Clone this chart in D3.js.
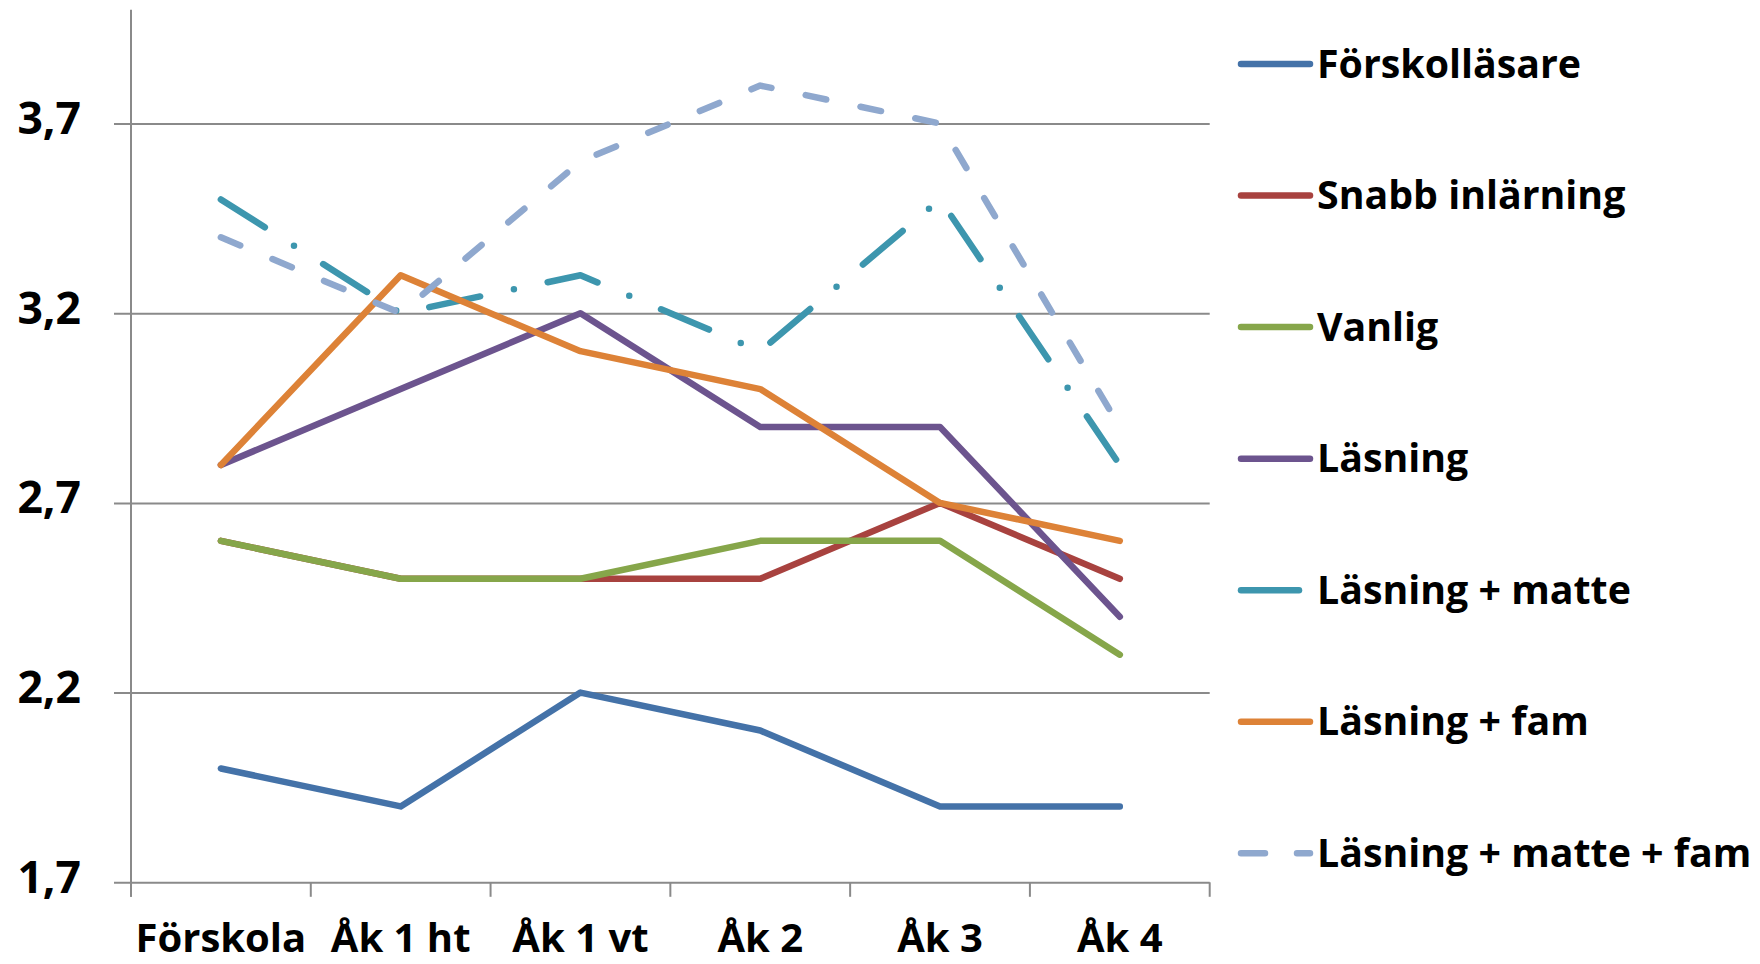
<!DOCTYPE html>
<html>
<head>
<meta charset="utf-8">
<script src="https://cdn.jsdelivr.net/npm/d3@7"></script>
<style>
  html, body { margin: 0; padding: 0; background: #ffffff; }
  svg { display: block; }
  text { font-family: "Open Sans", "Noto Sans", sans-serif; font-weight: 700; fill: #000; }
</style>
</head>
<body>
<svg id="chart" width="1760" height="964"></svg>
<script>
// ---- data ----
const categories = ["Förskola", "Åk 1 ht", "Åk 1 vt", "Åk 2", "Åk 3", "Åk 4"];
const seriesNames = ["Förskolläsare", "Snabb inlärning", "Vanlig", "Läsning", "Läsning + matte", "Läsning + fam", "Läsning + matte + fam"];
const forskollasare   = [2.0, 1.9, 2.2, 2.1, 1.9, 1.9];
const snabbInlarning  = [2.6, 2.5, 2.5, 2.5, 2.7, 2.5];
const vanlig          = [2.6, 2.5, 2.5, 2.6, 2.6, 2.3];
const lasning         = [2.8, 3.0, 3.2, 2.9, 2.9, 2.4];
const lasningMatte    = [3.5, 3.2, 3.3, 3.1, 3.5, 2.8];
const lasningFam      = [2.8, 3.3, 3.1, 3.0, 2.7, 2.6];
const lasningMatteFam = [3.4, 3.2, 3.6, 3.8, 3.7, 2.9];
const yTicks = [1.7, 2.2, 2.7, 3.2, 3.7];
const yDomain = [1.7, 4.0];

const seriesValues = [forskollasare, snabbInlarning, vanlig, lasning, lasningMatte, lasningFam, lasningMatteFam];

// ---- styles ----
const colors = ["#4472A8", "#A8423F", "#86A64A", "#6C548E", "#3D96AE", "#DD8237", "#8FA8CE"];
const dashes = [null, null, null, null, "52,34.5,0,34.5", null, "21,35"];
const legendDashes = [null, null, null, null, "58,100", null, "24,32"];

const svg = d3.select("#chart");
const plot = { left: 131, right: 1209.7, top: 9.7, bottom: 882.3 };

const x = d3.scaleBand().domain(categories).range([plot.left, plot.right]).padding(0);
const y = d3.scaleLinear().domain(yDomain).range([plot.bottom, plot.top]);

const gridColor = "#8a8a8a";

// gridlines (with left tick marks)
svg.append("g")
  .attr("transform", `translate(${plot.left},0)`)
  .call(d3.axisLeft(y).tickValues(yTicks).tickSize(-(plot.right - plot.left)).tickFormat(""))
  .call(g => g.select(".domain").remove())
  .call(g => g.selectAll(".tick line").attr("stroke", gridColor).attr("stroke-width", 2).attr("x1", -17));

// y axis line
svg.append("line")
  .attr("x1", plot.left).attr("x2", plot.left)
  .attr("y1", plot.top).attr("y2", plot.bottom + 14.5)
  .attr("stroke", gridColor).attr("stroke-width", 2);

// y labels
svg.append("g").selectAll("text")
  .data(yTicks)
  .join("text")
  .attr("x", 81)
  .attr("y", d => y(d) + 10.5)
  .attr("text-anchor", "end")
  .attr("font-size", 44.5)
  .text(d => d3.format(".1f")(d).replace(".", ","));

// x axis ticks at band boundaries
const xEdges = categories.map(c => x(c)).concat([plot.right]);
svg.append("g").selectAll("line")
  .data(xEdges)
  .join("line")
  .attr("x1", d => d).attr("x2", d => d)
  .attr("y1", plot.bottom).attr("y2", plot.bottom + 14.5)
  .attr("stroke", gridColor).attr("stroke-width", 2);

// x labels
svg.append("g").selectAll("text")
  .data(categories)
  .join("text")
  .attr("x", d => x(d) + x.bandwidth() / 2)
  .attr("y", 952)
  .attr("text-anchor", "middle")
  .attr("font-size", 40)
  .text(d => d);

// lines
const line = d3.line()
  .x((d, i) => x(categories[i]) + x.bandwidth() / 2)
  .y(d => y(d));

svg.append("g").selectAll("path")
  .data(seriesValues)
  .join("path")
  .attr("d", d => line(d))
  .attr("fill", "none")
  .attr("stroke", (d, i) => colors[i])
  .attr("stroke-width", 6.5)
  .attr("stroke-linecap", "round")
  .attr("stroke-linejoin", "round")
  .attr("stroke-dasharray", (d, i) => dashes[i]);

// legend
const legendTop = 64, legendStep = 131.55;
const leg = svg.append("g").selectAll("g")
  .data(seriesNames)
  .join("g")
  .attr("transform", (d, i) => `translate(0,${legendTop + i * legendStep})`);

leg.append("line")
  .attr("x1", 1241).attr("x2", 1310)
  .attr("y1", 0).attr("y2", 0)
  .attr("stroke", (d, i) => colors[i])
  .attr("stroke-width", 6.5)
  .attr("stroke-linecap", "round")
  .attr("stroke-dasharray", (d, i) => legendDashes[i]);

leg.append("text")
  .attr("x", 1317)
  .attr("y", 13.5)
  .attr("font-size", 39.3)
  .text(d => d);
</script>
</body>
</html>
